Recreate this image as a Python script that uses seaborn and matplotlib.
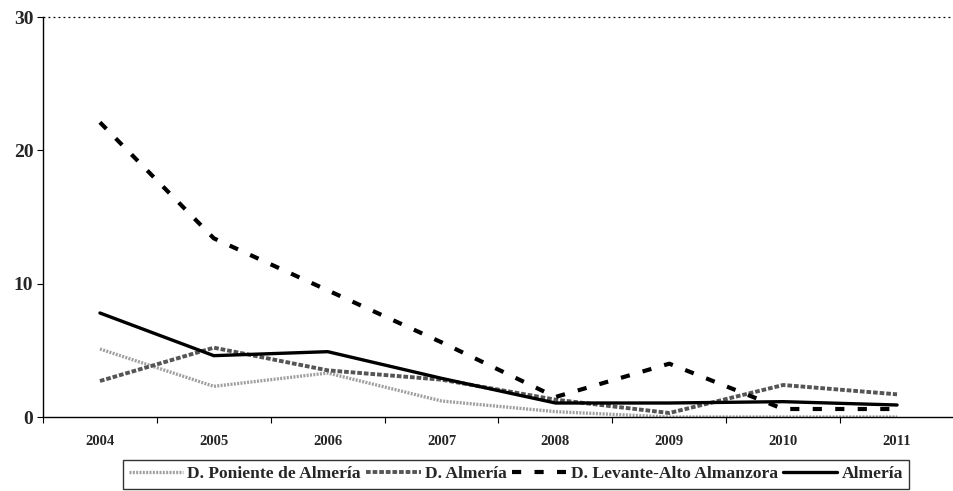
import numpy as np
import pandas as pd
import matplotlib
matplotlib.use("Agg")
import matplotlib.pyplot as plt
import seaborn as sns

years = ["2004", "2005", "2006", "2007", "2008", "2009", "2010", "2011"]
poniente = [5.1, 2.3, 3.3, 1.2, 0.4, 0.0, 0.0, 0.0]
d_almeria = [2.7, 5.2, 3.5, 2.8, 1.3, 0.3, 2.4, 1.7]
levante = [22.1, 13.4, 9.5, 5.6, 1.5, 4.0, 0.6, 0.6]
almeria = [7.8, 4.6, 4.9, 2.9, 1.05, 1.05, 1.15, 0.9]

series_names = ["D. Poniente de Almería", "D. Almería",
                "D. Levante-Alto Almanzora", "Almería"]

df = pd.DataFrame({
    "x": list(range(len(years))) * 4,
    "value": poniente + d_almeria + levante + almeria,
    "serie": np.repeat(series_names, len(years)),
})

sns.set_style("white")
plt.rcParams["font.family"] = ["Liberation Serif", "DejaVu Serif"]
plt.rcParams["font.weight"] = "bold"

fig = plt.figure(figsize=(9.54, 4.91), dpi=100)
ax = fig.add_axes([43 / 954, 1 - 417 / 491, 1 - 43 / 954, 400 / 491])

styles = {
    "D. Poniente de Almería": dict(color="#a0a0a0", lw=2.4, ls=(0, (0.6, 0.4))),
    "D. Almería": dict(color="#555555", lw=2.8, ls=(0, (1.2, 0.5))),
    "D. Levante-Alto Almanzora": dict(color="black", lw=3.0, ls=(0, (2.2, 3.2))),
    "Almería": dict(color="black", lw=2.4, ls="-"),
}

for name in series_names:
    sub = df[df["serie"] == name]
    st = styles[name]
    sns.lineplot(data=sub, x="x", y="value", ax=ax, color=st["color"],
                 linewidth=st["lw"], linestyle=st["ls"], label=name)

ax.set_xlim(-0.5, 7.45)
ax.set_ylim(0, 30)
ax.set_xlabel("")
ax.set_ylabel("")

# ticks: major at category boundaries, labels at centres
ax.set_xticks(np.arange(-0.5, 7.6, 1.0))
ax.set_xticklabels([])
ax.set_xticks(range(len(years)), minor=True)
ax.set_xticklabels(years, minor=True, fontsize=10.5, fontweight="bold")
ax.tick_params(axis="x", which="major", direction="out", length=4, width=0.8,
               bottom=True, color="black")
ax.tick_params(axis="x", which="minor", length=0, pad=13)
ax.set_yticks([0, 10, 20, 30])
ax.set_yticklabels(["0", "10", "20", "30"], fontsize=14, fontweight="bold")
ax.tick_params(axis="y", direction="out", length=4, width=0.8, left=True,
               color="black", pad=3)

for side in ["top", "right"]:
    ax.spines[side].set_visible(False)
for side in ["left", "bottom"]:
    ax.spines[side].set_color("black")
    ax.spines[side].set_linewidth(1.0)

ax.axhline(30, color="black", lw=0.9, ls=(0, (1.5, 2.5)), clip_on=False)

ax.legend_.remove()
handles, labels = ax.get_legend_handles_labels()
leg = fig.legend(handles, labels, loc="upper center", ncol=4,
                 bbox_to_anchor=(516 / 954, 1 - 460 / 491), frameon=True,
                 fancybox=False, edgecolor="black", fontsize=12.6,
                 handlelength=3.1, handletextpad=0.25, columnspacing=0.3,
                 borderpad=0.35, borderaxespad=0)
leg.get_frame().set_linewidth(1.0)
for t in leg.get_texts():
    t.set_fontweight("bold")

fig.savefig("out.png", dpi=100)
